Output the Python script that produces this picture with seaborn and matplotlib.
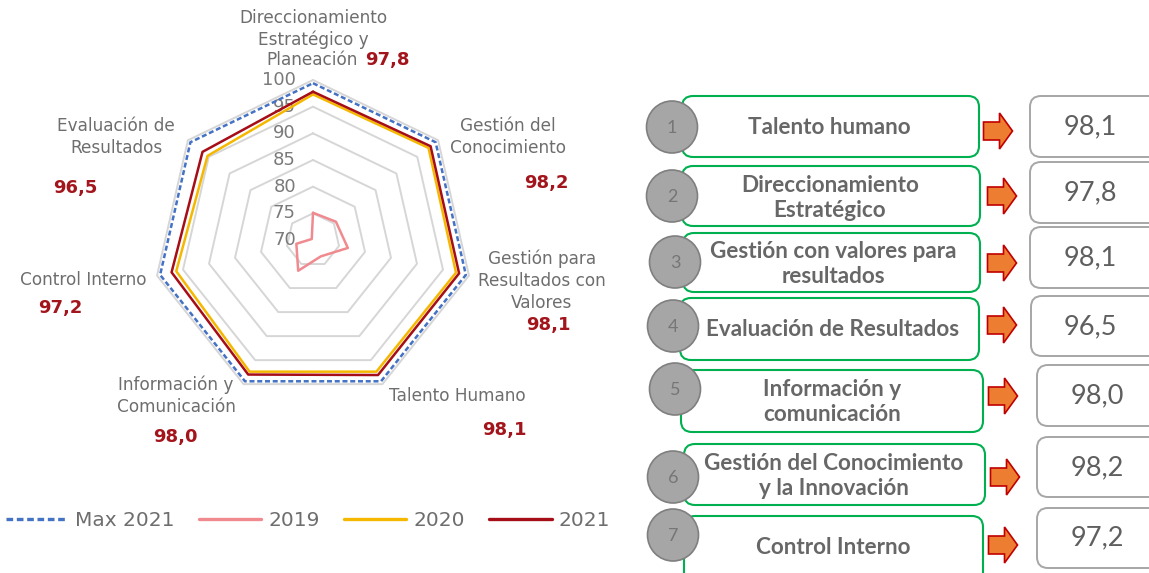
import numpy as np
import pandas as pd
import matplotlib
matplotlib.use("Agg")
import matplotlib.pyplot as plt
import matplotlib.transforms as mtransforms
from matplotlib.patches import FancyBboxPatch, Ellipse, Polygon
from matplotlib.lines import Line2D
import seaborn as sns

# ---------------- data ----------------
categories = ["Direccionamiento Estratégico y Planeación", "Gestión del Conocimiento",
              "Gestión para Resultados con Valores", "Talento Humano",
              "Información y Comunicación", "Control Interno", "Evaluación de Resultados"]
category_labels = ["Direccionamiento\nEstratégico y", "Gestión del\nConocimiento",
                   "Gestión para\nResultados con\nValores", "Talento Humano",
                   "Información y\nComunicación", "Control Interno", "Evaluación de\nResultados"]
category_label_tail = "Planeación"
series_names = ["Max 2021", "2019", "2020", "2021"]
max_2021 = [99.4, 99.4, 99.4, 99.4, 99.4, 99.4, 99.4]
vals_2019 = [75.1, 75.5, 76.7, 73.4, 76.4, 73.2, 70.3]
vals_2020 = [97.3, 97.7, 97.5, 97.4, 97.4, 96.3, 95.3]
vals_2021 = [97.8, 98.2, 98.1, 98.1, 98.0, 97.2, 96.5]
ring_ticks = [70, 75, 80, 85, 90, 95, 100]

panel_numbers = ["1", "2", "3", "4", "5", "6", "7"]
panel_labels = ["Talento humano", "Direccionamiento\nEstratégico", "Gestión con valores para\nresultados",
                "Evaluación de Resultados", "Información y\ncomunicación",
                "Gestión del Conocimiento\ny la Innovación", "Control Interno"]
panel_values = [98.1, 97.8, 98.1, 96.5, 98.0, 98.2, 97.2]


def fmt(v):
    return f"{v:.1f}".replace(".", ",")


# ---------------- styles / layout ----------------
W, H = 1149, 573
palette = {"Max 2021": "#4472c4", "2019": "#f08a8f", "2020": "#f5b800", "2021": "#a50d17"}
dash_map = {"Max 2021": (2.0, 1.1), "2019": "", "2020": "", "2021": ""}
label_color = "#6e6e6e"
value_red = "#a3151c"

sns.set_theme(style="white")
plt.rcParams["font.family"] = ["DejaVu Sans"]

fig = plt.figure(figsize=(W / 100, H / 100), dpi=100)
fig.patch.set_facecolor("white")

# overlay axes in pixel coordinates
ov = fig.add_axes([0, 0, 1, 1])
ov.set_xlim(0, W)
ov.set_ylim(H, 0)
ov.axis("off")

# radar axes
cx, cy, R = 313, 240, 160
ax = fig.add_axes([(cx - R) / W, 1 - (cy + R) / H, 2 * R / W, 2 * R / H], projection="polar")
ax.set_theta_offset(np.pi / 2)
ax.set_theta_direction(-1)
ax.set_ylim(70, 100)
ax.patch.set_alpha(0)
ax.grid(False)
ax.spines["polar"].set_visible(False)
ax.set_xticks([])
ax.set_yticks([])

n = len(categories)
theta = np.linspace(0, 2 * np.pi, n, endpoint=False)
closed_theta = np.append(theta, 2 * np.pi)

# heptagonal grid
for lvl in ring_ticks[1:]:
    ax.plot(closed_theta, [lvl] * (n + 1), color="#d6d6d6", lw=1.4, zorder=1, clip_on=False)

# ring labels
off = mtransforms.ScaledTranslation(-17 / 100, 0, fig.dpi_scale_trans)
for t in ring_ticks:
    ax.text(0, t, str(t), transform=ax.transData + off, ha="right", va="center",
            fontsize=13, color="#7a7a7a", zorder=2)

# series
rows = []
for name, vals in zip(series_names, [max_2021, vals_2019, vals_2020, vals_2021]):
    for i in range(n + 1):
        rows.append({"series": name, "theta": closed_theta[i], "value": vals[i % n]})
df = pd.DataFrame(rows)
sns.lineplot(data=df, x="theta", y="value", hue="series", style="series",
             hue_order=series_names, style_order=series_names,
             palette=palette, dashes=dash_map, sort=False, estimator=None,
             lw=1.8, ax=ax, legend=False, clip_on=False, zorder=3)
ax.set_xlabel("")
ax.set_ylabel("")

# category labels (pixel positions)
cat_pos = [(313, 29), (508, 137), (542, 281), (457, 396), (176, 396), (83, 280), (116, 137)]
val_pos = [(387, 60), (546, 183), (548, 325), (504, 430), (175, 437), (60, 308), (75, 188)]
for lab, (x, y) in zip(category_labels, cat_pos):
    ov.text(x, y, lab, ha="center", va="center", fontsize=12.2, color=label_color, linespacing=1.28)
ov.text(358, 60, category_label_tail, ha="right", va="center", fontsize=12.2, color=label_color)
for v, (x, y) in zip(vals_2021, val_pos):
    ov.text(x, y, fmt(v), ha="center", va="center", fontsize=13, fontweight="bold", color=value_red)

# legend
handles = [Line2D([0], [0], color=palette[s], lw=2.4,
                  dashes=dash_map[s] if dash_map[s] else (None, None)) for s in series_names]
fig.legend(handles=handles, labels=series_names, loc="center",
           bbox_to_anchor=(308 / W, 1 - 521 / H), ncol=4, frameon=False, fontsize=14.5,
           handlelength=3.1, columnspacing=1.2, handletextpad=0.35, labelcolor="#6e6e6e")

# ---------------- right panel ----------------
box_x = [(682, 979), (682, 980), (683, 980), (680, 979), (681, 983), (684, 985), (684, 983)]
box_y = [(96, 157), (166, 226), (233, 292), (298, 360), (370, 432), (444, 505), (516, 590)]
circ_c = [(672, 127), (672, 196), (675, 262), (673, 326), (675, 389), (673, 477), (673, 535)]
text_c = [(829, 127), (830, 198), (833, 264), (833, 330), (832, 402), (834, 476), (833, 547)]
arrow_c = [(998, 131), (1002, 196), (1002, 263), (1002, 325), (1003, 396), (1005, 477), (1003, 545)]
vbox_x = [1030, 1030, 1030, 1031, 1037, 1037, 1037]
vbox_y = [(96, 157), (162, 223), (227, 288), (296, 356), (365, 426), (437, 497), (508, 568)]
vtext_c = [(1090, 127), (1090, 193), (1090, 258), (1090, 327), (1097, 396), (1097, 468), (1097, 538)]

for i in range(7):
    x0, x1 = box_x[i]
    y0, y1 = box_y[i]
    ov.add_patch(FancyBboxPatch((x0, y0), x1 - x0, y1 - y0,
                                boxstyle="round,pad=0,rounding_size=11",
                                fc="white", ec="#00b050", lw=1.5, zorder=2))
    ex, ey = circ_c[i]
    ov.add_patch(Ellipse((ex, ey), 51, 52, fc="#a6a6a6", ec="#7f7f7f", lw=1.2, zorder=3))
    ov.text(ex, ey + 1, panel_numbers[i], ha="center", va="center", fontsize=13,
            color="#767676", family="Lato", zorder=4)
    tx, ty = text_c[i]
    ov.text(tx, ty, panel_labels[i], ha="center", va="center", fontsize=16.2,
            fontweight="bold", color="#676767", family="Lato", linespacing=1.28, zorder=4)
    ax_, ay_ = arrow_c[i]
    pts = [(ax_ - 14.5, ay_ - 9), (ax_ + 1.5, ay_ - 9), (ax_ + 1.5, ay_ - 18), (ax_ + 14.5, ay_),
           (ax_ + 1.5, ay_ + 18), (ax_ + 1.5, ay_ + 9), (ax_ - 14.5, ay_ + 9)]
    ov.add_patch(Polygon(pts, closed=True, fc="#ed7d31", ec="#c00000", lw=1.2, zorder=2))
    vx = vbox_x[i]
    vy0, vy1 = vbox_y[i]
    ov.add_patch(FancyBboxPatch((vx, vy0), 140, vy1 - vy0,
                                boxstyle="round,pad=0,rounding_size=11",
                                fc="white", ec="#a6a6a6", lw=1.4, zorder=2))
    vtx, vty = vtext_c[i]
    ov.text(vtx, vty, fmt(panel_values[i]), ha="center", va="center", fontsize=19.5,
            color="#5f5f5f", family="Lato", zorder=4)

fig.savefig("out.png", dpi=100, facecolor="white")
